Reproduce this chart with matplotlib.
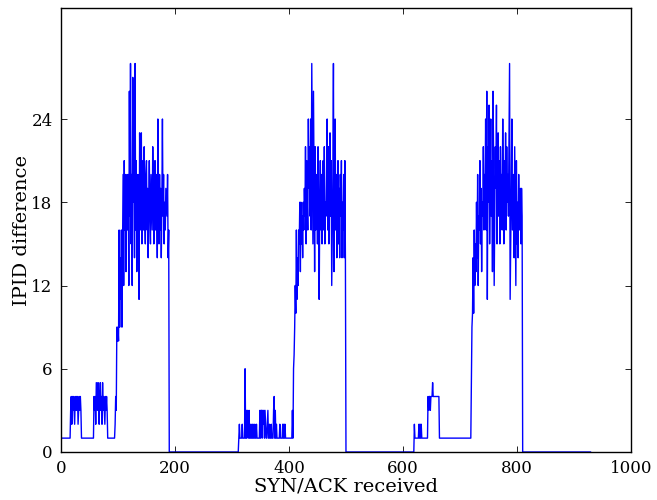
import numpy as np
import matplotlib
matplotlib.use('Agg')
import matplotlib.pyplot as plt

#----values, one list per stretch of the trace----
base_a = [1]*17
block_1 = [3, 4, 2, 4, 3, 4, 3, 2, 4, 3, 4, 3, 4, 2, 3, 4, 3, 4, 3]
base_b = [1]*22
block_2 = [4, 3, 4, 2, 5, 4, 3, 5, 4, 2, 4, 5, 3, 4, 2, 5, 3, 4, 3, 2,
           4, 3, 4, 3]
base_c = [1]*13
burst_1 = [2, 4, 3, 9, 8, 9, 8, 16, 9, 14,
           11, 16, 9, 15, 20, 12, 21, 16, 20, 13,
           19, 20, 16, 20, 12, 26, 17, 28, 15, 20,
           12, 27, 18, 21, 14, 28, 16, 21, 13, 18,
           20, 15, 11, 23, 16, 20, 23, 15, 19, 21,
           16, 22, 17, 15, 20, 21, 16, 19, 14, 18,
           21, 17, 15, 20, 18, 16, 22, 19, 15, 17,
           21, 16, 20, 18, 14, 24, 19, 15, 20, 16,
           19, 14, 18, 24, 17, 20, 15, 18, 16, 19,
           18, 17, 20, 14, 16]
gap_1 = [0]*122
low_2 = [1, 2, 1, 1, 1, 1, 2, 1, 1, 1,
         1, 6, 1, 3, 1, 3, 2, 1, 3, 1,
         2, 1, 1, 2, 1, 2, 1, 1, 2, 1,
         1, 2, 1, 1, 1, 1, 1, 3, 1, 3,
         3, 1, 3, 2, 3, 1, 3, 2, 1, 1,
         2, 3, 1, 1, 2, 1, 1, 2, 1, 1,
         1, 3, 4, 1, 3, 1, 2, 1, 1, 1,
         1, 1, 2, 1, 1, 1, 1, 2, 1, 2,
         1, 2, 1, 1, 1, 1, 1, 1, 1, 1,
         1, 1, 1, 1]
burst_2 = [3, 1, 6, 7, 9, 12, 10, 16, 11, 14,
           12, 16, 15, 18, 13, 18, 15, 17, 14, 18,
           16, 19, 17, 22, 15, 21, 18, 16, 24, 19,
           22, 17, 24, 16, 28, 21, 15, 26, 20, 13,
           22, 16, 19, 20, 15, 22, 17, 11, 18, 21,
           16, 20, 15, 19, 21, 16, 22, 15, 18, 17,
           20, 24, 16, 22, 15, 20, 23, 17, 21, 12,
           16, 20, 28, 13, 18, 24, 16, 20, 14, 18,
           21, 15, 19, 14, 20, 17, 21, 14, 18, 16,
           20, 14, 21, 14]
gap_2 = [0]*120
low_3 = [2, 1, 1, 1, 1, 1, 1, 1, 2, 1,
         2, 1, 2, 1, 1, 1, 1, 1, 1, 1,
         1, 1, 1, 1, 4, 3, 4, 4, 3, 4,
         4, 4, 5, 4, 4, 4, 4, 4, 4, 4,
         4, 4, 4, 4, 1] + [1]*55
burst_3 = [5, 9, 10, 14, 10, 16, 12, 15, 13, 18,
           14, 20, 12, 17, 16, 21, 15, 19, 13, 18,
           17, 22, 16, 20, 18, 24, 16, 26, 11, 22,
           18, 25, 15, 20, 24, 17, 21, 13, 26, 21,
           12, 17, 22, 19, 25, 15, 20, 23, 17, 21,
           15, 22, 18, 20, 16, 24, 19, 15, 21, 17,
           23, 16, 22, 18, 20, 17, 23, 28, 11, 15,
           19, 24, 16, 18, 20, 14, 22, 17, 12, 21,
           15, 18, 14, 20, 16, 18, 19, 15, 19, 17]
gap_3 = [0]*120

ipid = np.array(base_a + block_1 + base_b + block_2 + base_c + burst_1 +
                gap_1 + low_2 + burst_2 + gap_2 + low_3 + burst_3 + gap_3)
synack = np.arange(len(ipid))

x_ticks = [0, 200, 400, 600, 800, 1000]
y_ticks = [0, 6, 12, 18, 24]

#----old matplotlib look----
plt.rcParams['font.family'] = 'DejaVu Serif'
plt.rcParams['mathtext.fontset'] = 'dejavuserif'

fig = plt.figure(figsize=(6.57, 5.0), dpi=100)
ax = fig.add_axes([0.0928, 0.096, 0.8676, 0.888])

ax.plot(synack, ipid, color='b', linewidth=1.0)

ax.set_xlim(0, 1000)
ax.set_ylim(0, 32)
ax.set_xticks(x_ticks)
ax.set_yticks(y_ticks)
ax.tick_params(direction='in', top=True, right=True, length=4, width=0.6,
               labelsize=12, pad=6)
for s in ax.spines.values():
    s.set_linewidth(1.0)

ax.set_xlabel('SYN/ACK received', fontsize=14, labelpad=0)
ax.set_ylabel('IPID difference', fontsize=14, labelpad=0)

fig.savefig('out.png', dpi=100)
